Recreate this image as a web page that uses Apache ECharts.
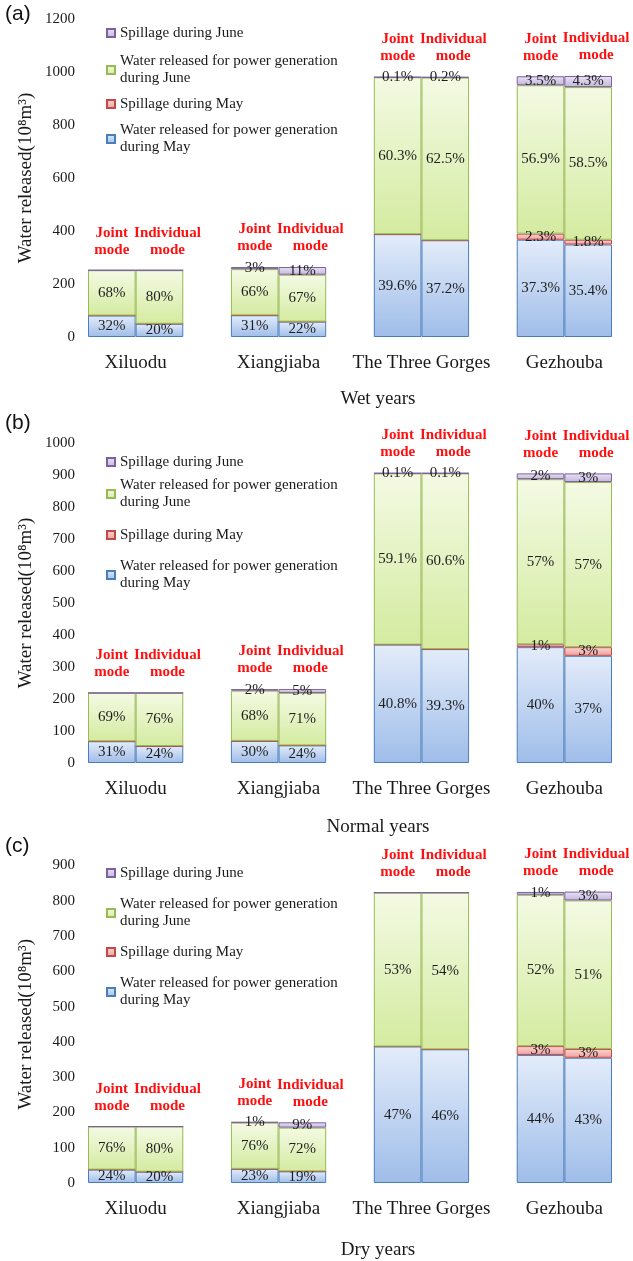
<!DOCTYPE html>
<html><head><meta charset="utf-8">
<script src="https://cdn.jsdelivr.net/npm/echarts@6/dist/echarts.min.js"></script>
<style>html,body{margin:0;padding:0;background:#fff}#c{width:633px;height:1261px}</style>
</head><body><div id="c"></div>
<script>
// ---------- DATA ----------
const stations = ['Xiluodu', 'Xiangjiaba', 'The Three Gorges', 'Gezhouba'];
const modes = ['Joint\nmode', 'Individual\nmode'];
const seriesNames = [
  'Water released for power generation\nduring May',
  'Spillage during May',
  'Water released for power generation\nduring June',
  'Spillage during June'
];
const panelTags = ['(a)', '(b)', '(c)'];
const panelTitles = ['Wet years', 'Normal years', 'Dry years'];
const yAxisName = 'Water released(10⁸m³)';
const yMax = [1200, 1000, 900];
const yStep = [200, 100, 100];

// bar order: Xiluodu J, Xiluodu I, Xiangjiaba J, Xiangjiaba I, Three Gorges J, I, Gezhouba J, I
const wetPowerMay   = [81, 50, 82, 58, 388, 365, 367, 349];
const wetSpillMay   = [0, 0, 0, 0, 0, 0, 23, 18];
const wetPowerJune  = [171, 202, 174, 177, 592, 614, 560, 576];
const wetSpillJune  = [0, 0, 8, 29, 1, 2, 34, 42];
const wetPctPowerMay  = ['32%', '20%', '31%', '22%', '39.6%', '37.2%', '37.3%', '35.4%'];
const wetPctSpillMay  = ['', '', '', '', '', '', '2.3%', '1.8%'];
const wetPctPowerJune = ['68%', '80%', '66%', '67%', '60.3%', '62.5%', '56.9%', '58.5%'];
const wetPctSpillJune = ['', '', '3%', '11%', '0.1%', '0.2%', '3.5%', '4.3%'];

const normalPowerMay  = [68, 53, 69, 55, 370, 356, 362, 335];
const normalSpillMay  = [0, 0, 0, 0, 0, 0, 9, 27];
const normalPowerJune = [151, 166, 157, 164, 535, 549, 516, 516];
const normalSpillJune = [0, 0, 5, 12, 1, 1, 18, 27];
const normalPctPowerMay  = ['31%', '24%', '30%', '24%', '40.8%', '39.3%', '40%', '37%'];
const normalPctSpillMay  = ['', '', '', '', '', '', '1%', '3%'];
const normalPctPowerJune = ['69%', '76%', '68%', '71%', '59.1%', '60.6%', '57%', '57%'];
const normalPctSpillJune = ['', '', '2%', '5%', '0.1%', '0.1%', '2%', '3%'];

const dryPowerMay  = [38, 32, 40, 33, 387, 379, 363, 355];
const drySpillMay  = [0, 0, 0, 0, 0, 0, 25, 25];
const dryPowerJune = [122, 128, 131, 124, 436, 444, 429, 421];
const drySpillJune = [0, 0, 2, 15, 0, 0, 8, 25];
const dryPctPowerMay  = ['24%', '20%', '23%', '19%', '47%', '46%', '44%', '43%'];
const dryPctSpillMay  = ['', '', '', '', '', '', '3%', '3%'];
const dryPctPowerJune = ['76%', '80%', '76%', '72%', '53%', '54%', '52%', '51%'];
const dryPctSpillJune = ['', '', '1%', '9%', '', '', '1%', '3%'];

// ---------- BUILD ----------
const panels = [
  { vals: [wetPowerMay, wetSpillMay, wetPowerJune, wetSpillJune],
    pcts: [wetPctPowerMay, wetPctSpillMay, wetPctPowerJune, wetPctSpillJune] },
  { vals: [normalPowerMay, normalSpillMay, normalPowerJune, normalSpillJune],
    pcts: [normalPctPowerMay, normalPctSpillMay, normalPctPowerJune, normalPctSpillJune] },
  { vals: [dryPowerMay, drySpillMay, dryPowerJune, drySpillJune],
    pcts: [dryPctPowerMay, dryPctSpillMay, dryPctPowerJune, dryPctSpillJune] }
];

// layout (pixels)
const grids = [
  { left: 88, width: 524, top: 19, height: 318 },
  { left: 88, width: 524, top: 443, height: 320 },
  { left: 88, width: 524, top: 865.5, height: 319.5 }
];
const tagY = [16, 425, 848];
const nameGaps = [53, 55, 58];
const legendCenters = [[33, 70, 104, 139], [462, 494, 535, 575], [873, 913, 952, 992]];

const serif = '"Liberation Serif", "Times New Roman", serif';
const styles = [
  { top: '#e3ecfa', bottom: '#9fbde9', border: '#4a7ebb' },
  { top: '#fbd6d5', bottom: '#ef9f9c', border: '#be4b48' },
  { top: '#f4fae4', bottom: '#d4eba0', border: '#98b954' },
  { top: '#e9e3f3', bottom: '#c4b6dc', border: '#7d60a0' }
];

// 8 bars -> 11 slots with blank gap categories between stations
function expand(arr, blank) {
  const out = [];
  arr.forEach((v, i) => {
    out.push(v);
    if (i % 2 === 1 && i < arr.length - 1) out.push(blank);
  });
  return out;
}
const nSlots = 11;
const slotCats = Array.from({ length: nSlots }, (_, i) => 's' + i);
const stationAt = {};
stations.forEach((s, g) => { stationAt[3 * g + 1] = s; });

const option = {
  backgroundColor: '#ffffff',
  animation: false,
  grid: grids.map(g => Object.assign({ containLabel: false }, g)),
  xAxis: [],
  yAxis: [],
  legend: [],
  series: [],
  graphic: panelTags.map((t, p) => ({
    type: 'text', left: 5, top: tagY[p] - 12,
    style: { text: t, font: '21px "Liberation Sans", Arial, sans-serif', fill: '#111' }
  }))
};

panels.forEach((panel, p) => {
  option.xAxis.push({
    type: 'category', gridIndex: p, data: slotCats,
    axisLine: { show: false }, axisTick: { show: false }, axisLabel: { show: false },
    splitLine: { show: false }
  });
  option.xAxis.push({
    type: 'value', gridIndex: p, min: 0, max: nSlots, interval: 1, position: 'bottom',
    axisLine: { show: false }, axisTick: { show: false }, splitLine: { show: false },
    axisLabel: {
      show: true, margin: 17, fontFamily: serif, fontSize: 19, color: '#1a1a1a',
      formatter: v => stationAt[Math.round(v)] || '', hideOverlap: false
    },
    name: panelTitles[p], nameLocation: 'middle', nameGap: nameGaps[p], nameMoveOverlap: false,
    nameTextStyle: { fontFamily: serif, fontSize: 19, color: '#1a1a1a', padding: [0, 0, 0, 56] }
  });
  option.yAxis.push({
    type: 'value', gridIndex: p, min: 0, max: yMax[p], interval: yStep[p],
    axisLine: { show: false }, axisTick: { show: false }, splitLine: { show: false },
    axisLabel: { margin: 13, fontFamily: serif, fontSize: 15, color: '#1a1a1a', formatter: v => String(v) },
    name: yAxisName, nameLocation: 'middle', nameGap: 52, nameMoveOverlap: false,
    nameTextStyle: { fontFamily: serif, fontSize: 19, color: '#1a1a1a' }
  });

  panel.vals.forEach((vals, k) => {
    const pctExp = expand(panel.pcts[k], '');
    const st = styles[k];
    option.series.push({
      type: 'bar', name: seriesNames[k], stack: 'p' + p,
      xAxisIndex: 2 * p, yAxisIndex: p,
      barCategoryGap: '0%', barGap: '0%',
      data: expand(vals, '-'),
      itemStyle: {
        color: new echarts.graphic.LinearGradient(0, 0, 0, 1, [
          { offset: 0, color: st.top }, { offset: 1, color: st.bottom }
        ]),
        borderColor: st.border, borderWidth: 1
      },
      label: {
        show: true, position: 'inside', fontFamily: serif, fontSize: 15, color: '#1e1e1e',
        formatter: prm => pctExp[prm.dataIndex] || ''
      },
      emphasis: { disabled: true }
    });
  });

  // mode annotations, placed on top of each stacked bar
  const modeData = expand(panel.vals[0].map((_, i) => ({
    value: 0,
    label: { formatter: modes[i % 2], offset: [i % 2 === 1 ? 8 : 0, 0] }
  })), '-');
  option.series.push({
    type: 'bar', name: 'mode', stack: 'p' + p,
    xAxisIndex: 2 * p, yAxisIndex: p, barCategoryGap: '0%', barGap: '0%',
    data: modeData,
    itemStyle: { color: 'rgba(0,0,0,0)', borderWidth: 0 },
    label: {
      show: true, position: 'top', distance: 12,
      fontFamily: serif, fontSize: 15, fontWeight: 'bold', color: '#ff1010', lineHeight: 17
    },
    emphasis: { disabled: true }
  });

  // legend: one item per legend, top-down order
  [3, 2, 1, 0].forEach((k, j) => {
    const twoLine = seriesNames[k].indexOf('\n') >= 0;
    const cy = legendCenters[p][j];
    option.legend.push({
      left: 106, top: twoLine ? cy - 25.5 : cy - 8.5,
      orient: 'vertical', selectedMode: false, icon: 'rect',
      itemWidth: 8, itemHeight: 8, itemGap: 0, padding: 0,
      data: [seriesNames[k]],
      textStyle: {
        fontFamily: serif, fontSize: 15, color: '#1a1a1a', lineHeight: 17,
        padding: twoLine ? [17, 0, 0, 0] : 0
      }
    });
  });
});

const chart = echarts.init(document.getElementById('c'), null, { renderer: 'canvas' });
chart.setOption(option);
</script>
</body></html>
